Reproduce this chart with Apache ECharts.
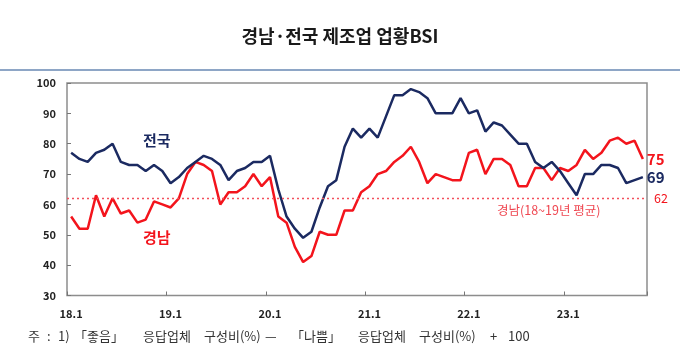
<!DOCTYPE html>
<html>
<head>
<meta charset="utf-8">
<script src="https://cdn.jsdelivr.net/npm/echarts@6/dist/echarts.min.js"></script>
<style>
html,body{margin:0;padding:0;background:#fff;}
#c{width:680px;height:364px;}
</style>
</head>
<body>
<div id="c"></div>
<script>
// ---- data ----
var years = ['18', '19', '20', '21', '22', '23'];
var lastMonth = 10; // data ends at 23.10
var national = [
  77, 75, 74, 77, 78, 80, 74, 73, 73, 71, 73, 71,
  67, 69, 72, 74, 76, 75, 73, 68, 71, 72, 74, 74,
  76, 65, 56, 52, 49, 51, 59, 66, 68, 79, 85, 82,
  85, 82, 89, 96, 96, 98, 97, 95, 90, 90, 90, 95,
  90, 91, 84, 87, 86, 83, 80, 80, 74, 72, 74, 71,
  67, 63, 70, 70, 73, 73, 72, 67, 68, 69
];
var gyeongnam = [
  56, 52, 52, 63, 56, 62, 57, 58, 54, 55, 61, 60,
  59, 62, 70, 74, 73, 71, 60, 64, 64, 66, 70, 66,
  69, 56, 54, 46, 41, 43, 51, 50, 50, 58, 58, 64,
  66, 70, 71, 74, 76, 79, 74, 67, 70, 69, 68, 68,
  77, 78, 70, 75, 75, 73, 66, 66, 72, 72, 68, 72,
  71, 73, 78, 75, 77, 81, 82, 80, 81, 75
];
var avgGyeongnam = 62; // 2018~2019 average
var yTicks = [30, 40, 50, 60, 70, 80, 90, 100];

var categories = [];
years.forEach(function (y, yi) {
  var n = (yi === years.length - 1) ? lastMonth : 12;
  for (var m = 1; m <= n; m++) categories.push(y + '.' + m);
});

var BLUE = '#1b2a61';
var RED = '#f3141c';
var FONT = '"Noto Sans CJK KR", "Noto Sans", sans-serif';

// footnote pieces with their left positions
var noteParts = [
  ['주', 28], [':', 47], ['1)', 58], ['「좋음」', 74], ['응답업체', 143], ['구성비(%)', 204],
  ['—', 265], ['「나쁨」', 291], ['응답업체', 358], ['구성비(%)', 419], ['+', 490], ['100', 508]
];

var graphics = [
  {type: 'text', left: 'center', top: 27, style: {text: '경남·전국 제조업 업황BSI', font: 'bold 18px ' + FONT, fill: '#1a1a1a'}},
  {type: 'rect', shape: {x: 0, y: 69, width: 680, height: 2}, style: {fill: '#8ea6c6'}},
  {type: 'text', left: 143, top: 133, style: {text: '전국', font: 'bold 15px ' + FONT, fill: BLUE}},
  {type: 'text', left: 143, top: 230, style: {text: '경남', font: 'bold 15px ' + FONT, fill: RED}},
  {type: 'text', left: 497, top: 204, style: {text: '경남(18~19년 평균)', font: '12.5px ' + FONT, fill: '#ef4650'}}
];
noteParts.forEach(function (p) {
  graphics.push({type: 'text', left: p[1], top: 330, style: {text: p[0], font: '13px ' + FONT, fill: '#333'}});
});

var chart = echarts.init(document.getElementById('c'), null, {renderer: 'canvas'});
chart.setOption({
  animation: false,
  textStyle: {fontFamily: FONT},
  grid: {left: 67, right: 33, top: 83, bottom: 68.5, show: true, borderColor: '#8d8d8d', borderWidth: 1.5, containLabel: false},
  xAxis: {
    type: 'category',
    data: categories,
    boundaryGap: true,
    axisLine: {show: false},
    axisTick: {show: true, inside: true, interval: 11, length: 4, lineStyle: {color: '#777'}},
    axisLabel: {interval: 11, margin: 13, fontSize: 11, fontWeight: 'bold', color: '#222', fontFamily: FONT}
  },
  yAxis: {
    type: 'value',
    min: yTicks[0], max: yTicks[yTicks.length - 1], interval: 10,
    axisLine: {show: false},
    axisTick: {show: true, inside: true, length: 4, lineStyle: {color: '#777'}},
    splitLine: {show: false},
    axisLabel: {margin: 11, fontSize: 11, fontWeight: 'bold', color: '#222', fontFamily: FONT}
  },
  series: [
    {
      name: '전국', type: 'line', data: national, symbol: 'none',
      lineStyle: {color: BLUE, width: 2.5}, itemStyle: {color: BLUE},
      endLabel: {show: true, formatter: '{c}', color: BLUE, fontSize: 15, fontWeight: 'bold', distance: 4, fontFamily: FONT},
      z: 3
    },
    {
      name: '경남', type: 'line', data: gyeongnam, symbol: 'none',
      lineStyle: {color: RED, width: 2.5}, itemStyle: {color: RED},
      endLabel: {show: true, formatter: '{c}', color: RED, fontSize: 15, fontWeight: 'bold', distance: 4, fontFamily: FONT},
      markLine: {
        silent: true, symbol: 'none',
        lineStyle: {color: '#f2505c', type: [2, 3], width: 1.3},
        label: {show: true, position: 'end', formatter: String(avgGyeongnam), color: RED, fontSize: 12.5, distance: 7, fontFamily: FONT},
        data: [{yAxis: avgGyeongnam}]
      },
      z: 2
    }
  ],
  graphic: graphics
});
</script>
</body>
</html>
